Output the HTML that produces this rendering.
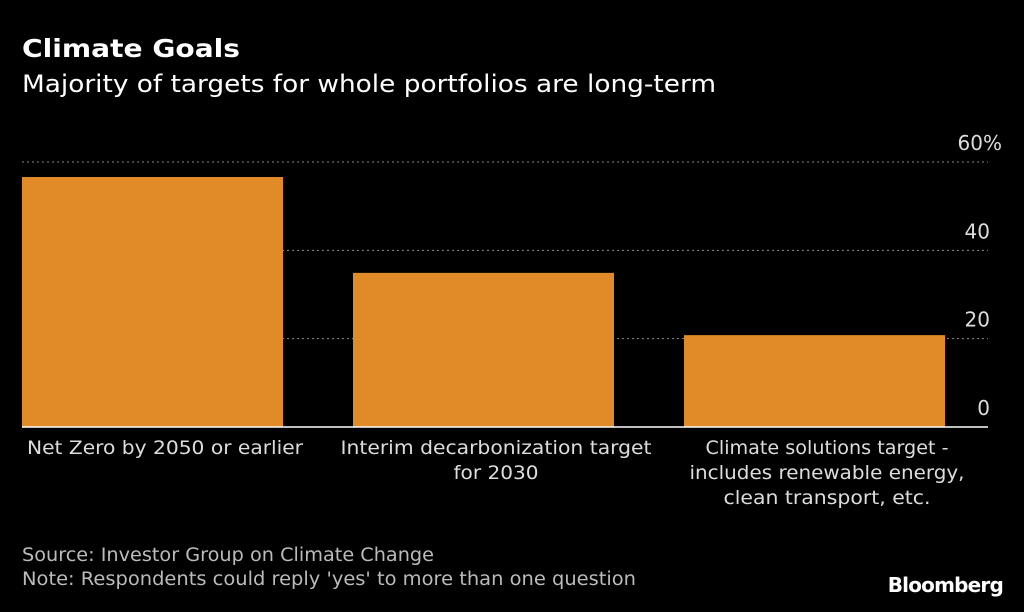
<!DOCTYPE html>
<html><head><meta charset="utf-8"><style>
body{margin:0;background:#000;width:1024px;height:608px;overflow:hidden;font-family:"DejaVu Sans","Liberation Sans",sans-serif;color:#fff}
svg text{font-family:"DejaVu Sans","Liberation Sans",sans-serif}
</style></head><body>
<svg width="1024" height="608">
<text x="22" y="57" font-size="25" font-weight="bold" fill="#fff" textLength="218" lengthAdjust="spacingAndGlyphs">Climate Goals</text>
<text x="22" y="92" font-size="24" fill="#fff" textLength="694" lengthAdjust="spacingAndGlyphs">Majority of targets for whole portfolios are long-term</text>
<g id="grid"></g><g id="bars"></g><g id="labels"></g>
<line x1="22" y1="427" x2="988" y2="427" stroke="#fff" stroke-width="1.5"/>
<text x="22" y="561" font-size="18.5" fill="#bbb" textLength="412" lengthAdjust="spacingAndGlyphs">Source: Investor Group on Climate Change</text>
<text x="22" y="585" font-size="18.5" fill="#bbb" textLength="614" lengthAdjust="spacingAndGlyphs">Note: Respondents could reply 'yes' to more than one question</text>
<text x="1003" y="592" font-size="20" font-weight="bold" fill="#fff" text-anchor="end" letter-spacing="-0.8">Bloomberg</text>
</svg>
<script>
const categories=[["Net Zero by 2050 or earlier"],["Interim decarbonization target","for 2030"],["Climate solutions target -","includes renewable energy,","clean transport, etc."]];
const values=[56.6,34.9,20.8];
const ticks=[0,20,40,60];
const tickLabels=["0","20","40","60%"];
const labelWidths=[[276],[311,85],[243,275,207]];
const NS="http://www.w3.org/2000/svg";
const y=v=>427-v*(265/60);
const bx=i=>22+i*331;
function mk(t,a,p){const e=document.createElementNS(NS,t);for(const k in a)e.setAttribute(k,a[k]);p.appendChild(e);return e;}
const g=document.getElementById('grid'),b=document.getElementById('bars'),l=document.getElementById('labels');
ticks.forEach((t,i)=>{
 if(t>0){const ln=mk('line',{x1:22,x2:988,y1:y(t),y2:y(t),stroke:'#888','stroke-dasharray':'2,3','stroke-width':1},g);
 
 }
 const last=i===ticks.length-1;
 const tx=mk('text',{x:last?1002:990,y:y(t)-12,'font-size':20,fill:'#ddd','text-anchor':'end'},l);tx.textContent=tickLabels[i];
 
 
});
values.forEach((v,i)=>{
 const r=mk('rect',{x:bx(i),y:y(v),width:261,height:427-y(v),fill:'#e08b27'},b);
 
 
 categories[i].forEach((s,j)=>{const tx=mk('text',{x:bx(i)+143,y:454+j*25,'font-size':19,fill:'#ddd','text-anchor':'middle',textLength:labelWidths[i][j],lengthAdjust:'spacingAndGlyphs'},l);tx.textContent=s;
 
 });
});
</script>
</body></html>
